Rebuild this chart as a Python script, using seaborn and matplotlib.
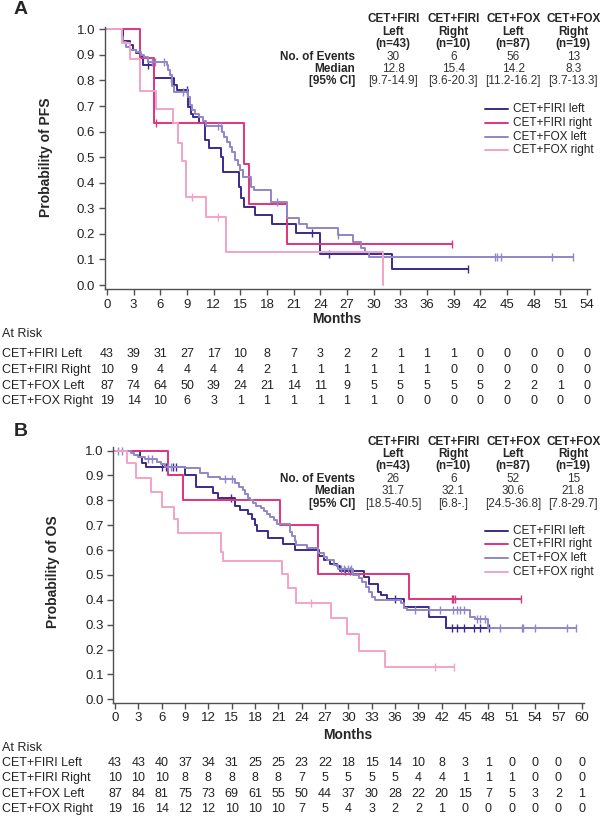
import numpy as np
import matplotlib
matplotlib.use("Agg")
import matplotlib.pyplot as plt
import matplotlib.transforms as mtransforms
from matplotlib.lines import Line2D
import seaborn as sns

# --- datos ---
grupos = ["CET+FIRI left", "CET+FIRI right", "CET+FOX left", "CET+FOX right"]
filas_riesgo = ["CET+FIRI Left", "CET+FIRI Right", "CET+FOX Left", "CET+FOX Right"]
colores = ["#3b2a8c", "#e2337f", "#8f87c7", "#f3a2c8"]

col_titulo1 = ["CET+FIRI", "CET+FIRI", "CET+FOX", "CET+FOX"]
col_titulo2 = ["Left", "Right", "Left", "Right"]
col_n = ["(n=43)", "(n=10)", "(n=87)", "(n=19)"]

# Panel A (PFS)
pfs_eventos = ["30", "6", "56", "13"]
pfs_mediana = ["12.8", "15.4", "14.2", "8.3"]
pfs_ic = ["[9.7-14.9]", "[3.6-20.3]", "[11.2-16.2]", "[3.7-13.3]"]

pfs_t_firi_l = [0, 1.8, 2.6, 2.9, 3.3, 3.7, 4.1, 5.25, 7.5, 7.9, 9.1, 9.4, 9.7, 10.3, 11.0,
                11.5, 12.8, 13.1, 14.8, 15.1, 15.4, 16.6, 18.6, 21.3, 24.0, 32.1, 40.6]
pfs_s_firi_l = [1.0, 0.955, 0.939, 0.919, 0.906, 0.89, 0.86, 0.808, 0.782, 0.763, 0.697, 0.67,
                0.658, 0.632, 0.567, 0.535, 0.502, 0.443, 0.384, 0.339, 0.306, 0.272, 0.237,
                0.203, 0.121, 0.063, 0.063]
pfs_c_firi_l = [4.6, 7.2, 9.0, 23.1, 25.0, 40.6]

pfs_t_firi_r = [0, 3.7, 5.3, 15.4, 16.0, 20.2, 38.8]
pfs_s_firi_r = [1.0, 0.889, 0.632, 0.475, 0.317, 0.159, 0.159]
pfs_c_firi_r = [5.5, 38.8]

pfs_t_fox_l = [0, 1.65, 1.8, 2.1, 2.6, 3.3, 3.8, 4.2, 4.6, 6.7, 6.9, 7.1, 7.3, 7.5, 9.1, 9.3,
               9.6, 9.9, 10.4, 10.8, 11.1, 12.9, 13.2, 13.5, 13.8, 14.1, 14.4, 14.7, 15.0, 15.3,
               16.2, 16.5, 18.5, 20.2, 21.6, 22.5, 26.0, 27.7, 28.6, 29.0, 29.5, 52.4]
pfs_s_fox_l = [1.0, 0.97, 0.95, 0.93, 0.92, 0.91, 0.90, 0.89, 0.874, 0.86, 0.84, 0.82, 0.78,
               0.756, 0.736, 0.703, 0.684, 0.67, 0.658, 0.64, 0.62, 0.60, 0.58, 0.56, 0.54,
               0.52, 0.49, 0.47, 0.45, 0.424, 0.384, 0.371, 0.326, 0.263, 0.24, 0.222, 0.196,
               0.169, 0.143, 0.13, 0.108, 0.108]
pfs_c_fox_l = [5.1, 5.4, 6.4, 8.5, 9.0, 12.5, 12.8, 19.1, 26.0, 43.6, 43.9, 44.3, 50.0, 52.4]

pfs_t_fox_r = [0, 1.65, 2.55, 3.7, 5.5, 7.4, 7.95, 8.4, 8.9, 11.1, 13.4, 31.1]
pfs_s_fox_r = [1.0, 0.948, 0.883, 0.76, 0.69, 0.632, 0.554, 0.486, 0.345, 0.265, 0.128, 0.0]
pfs_c_fox_r = [9.6, 12.5]

pfs_meses = list(range(0, 55, 3))
pfs_riesgo = [
    [43, 39, 31, 27, 17, 10, 8, 7, 3, 2, 2, 1, 1, 1, 0, 0, 0, 0, 0],
    [10, 9, 4, 4, 4, 4, 2, 1, 1, 1, 1, 1, 1, 0, 0, 0, 0, 0, 0],
    [87, 74, 64, 50, 39, 24, 21, 14, 11, 9, 5, 5, 5, 5, 5, 2, 2, 1, 0],
    [19, 14, 10, 6, 3, 1, 1, 1, 1, 1, 1, 0, 0, 0, 0, 0, 0, 0, 0],
]

# Panel B (OS)
os_eventos = ["26", "6", "52", "15"]
os_mediana = ["31.7", "32.1", "30.6", "21.8"]
os_ic = ["[18.5-40.5]", "[6.8-.]", "[24.5-36.8]", "[7.8-29.7]"]

os_t_firi_l = [0, 3.2, 3.5, 4.0, 9.0, 10.4, 12.6, 13.3, 15.4, 16.1, 17.1, 17.6, 18.0, 18.2,
               19.7, 21.6, 23.1, 26.2, 26.8, 27.6, 28.5, 28.9, 32.0, 32.7, 33.8, 34.2, 35.0,
               37.1, 40.3, 42.6, 48.1]
os_s_firi_l = [1.0, 0.976, 0.952, 0.933, 0.902, 0.853, 0.828, 0.808, 0.777, 0.761, 0.744,
               0.724, 0.701, 0.677, 0.65, 0.623, 0.6, 0.578, 0.56, 0.543, 0.534, 0.516, 0.493,
               0.462, 0.433, 0.42, 0.402, 0.373, 0.332, 0.286, 0.286]
os_c_firi_l = [6.0, 6.6, 7.5, 7.9, 14.9, 29.6, 30.2, 36.0, 43.3, 43.9, 44.8, 46.1, 46.9, 48.1]

os_t_firi_r = [0, 6.86, 8.7, 21.2, 26.1, 37.8, 52.2]
os_s_firi_r = [1.0, 0.9, 0.8, 0.7, 0.503, 0.403, 0.403]
os_c_firi_r = [43.3, 43.5, 43.7, 52.2]

os_t_fox_l = [0, 2.1, 2.5, 3.0, 3.9, 5.4, 5.9, 6.4, 9.0, 10.9, 12.0, 13.5, 15.4, 16.0, 16.4,
              16.7, 17.1, 17.4, 17.7, 18.1, 18.7, 19.1, 19.5, 19.9, 20.4, 20.8, 22.5, 22.8,
              23.1, 23.3, 24.7, 26.1, 26.8, 27.3, 28.1, 28.7, 30.6, 31.3, 31.7, 32.2, 32.6,
              33.0, 33.4, 36.7, 37.1, 37.5, 45.6, 46.3, 47.9, 59.2]
os_s_fox_l = [1.0, 0.992, 0.983, 0.976, 0.965, 0.956, 0.946, 0.936, 0.929, 0.909, 0.895,
              0.885, 0.871, 0.855, 0.842, 0.826, 0.811, 0.802, 0.788, 0.779, 0.768, 0.757,
              0.745, 0.735, 0.721, 0.704, 0.674, 0.657, 0.638, 0.62, 0.607, 0.59, 0.574, 0.56,
              0.54, 0.523, 0.5, 0.487, 0.473, 0.453, 0.433, 0.413, 0.4, 0.386, 0.369, 0.359,
              0.332, 0.323, 0.286, 0.286]
os_c_fox_l = [0.4, 0.9, 4.2, 4.7, 6.8, 7.2, 14.1, 15.0, 29.0, 29.4, 30.0, 30.3, 38.6, 40.3,
              41.8, 43.5, 43.9, 44.3, 44.8, 46.5, 46.9, 47.6, 49.5, 52.3, 52.5, 54.0, 58.1, 59.2]

os_t_fox_r = [0, 1.5, 2.7, 4.6, 6.0, 7.6, 8.1, 13.6, 13.9, 21.4, 22.2, 23.3, 27.7, 29.8,
              31.3, 34.7, 43.6]
os_s_fox_r = [1.0, 0.949, 0.889, 0.835, 0.775, 0.725, 0.668, 0.594, 0.556, 0.504, 0.446,
              0.389, 0.326, 0.263, 0.196, 0.131, 0.131]
os_c_fox_r = [25.2, 41.1, 43.6]

os_meses = list(range(0, 61, 3))
os_riesgo = [
    [43, 43, 40, 37, 34, 31, 25, 25, 23, 22, 18, 15, 14, 10, 8, 3, 1, 0, 0, 0, 0],
    [10, 10, 10, 8, 8, 8, 8, 8, 7, 5, 5, 5, 5, 4, 4, 1, 1, 1, 0, 0, 0],
    [87, 84, 81, 75, 73, 69, 61, 55, 50, 44, 37, 30, 28, 22, 20, 15, 7, 5, 3, 2, 1],
    [19, 16, 14, 12, 12, 10, 10, 10, 7, 5, 4, 3, 2, 2, 1, 0, 0, 0, 0, 0, 0],
]

# --- estilo ---
sns.set_style("ticks")
plt.rcParams["font.family"] = ["Liberation Sans", "DejaVu Sans"]

W, H = 600, 819
fig = plt.figure(figsize=(W / 100, H / 100), dpi=100)


def fx(x):
    return x / W


def fy(y):
    return 1 - y / H


def texto(x, y, s, **kw):
    fig.text(fx(x), fy(y), s, **kw)


def panel(rect, xlim, ylim, curvas, xmax):
    ax = fig.add_axes(rect)
    for (t, s, c), col in zip(curvas, colores):
        sns.lineplot(x=t, y=s, drawstyle="steps-post", color=col, lw=1.4,
                     estimator=None, sort=False, ax=ax)
        t_arr = np.array(t)
        idx = np.searchsorted(t_arr, c, side="right") - 1
        ax.plot(c, np.array(s)[idx], linestyle="none", marker="|", ms=5.5,
                mew=1.0, color=col)
    ax.set_xlim(*xlim)
    ax.set_ylim(*ylim)
    ax.set_xticks(np.arange(0, xmax + 1, 3))
    ax.set_yticks(np.arange(0, 1.01, 0.1))
    ax.set_yticklabels([f"{v:.1f}" for v in np.arange(0, 1.01, 0.1)])
    ax.set_xlabel("")
    ax.set_ylabel("")
    sns.despine(ax=ax)
    for sp in ["left", "bottom"]:
        ax.spines[sp].set_color("#505050")
        ax.spines[sp].set_linewidth(1.0)
    ax.tick_params(direction="out", length=4, width=1.0, color="#505050",
                   labelsize=9.5, labelcolor="#222222", pad=3)
    return ax


def cabecera(y0, eventos, mediana, ic):
    xs = [393.3, 453.3, 513.3, 573.3]
    dy = 12.4
    fs = 8.5
    for i, x in enumerate(xs):
        texto(x, y0, col_titulo1[i], ha="center", va="center", fontsize=fs, fontweight="bold")
        texto(x, y0 + dy, col_titulo2[i], ha="center", va="center", fontsize=fs, fontweight="bold")
        texto(x, y0 + 2 * dy, col_n[i], ha="center", va="center", fontsize=fs, fontweight="bold")
        texto(x, y0 + 3 * dy, eventos[i], ha="center", va="center", fontsize=fs, color="#333333")
        texto(x, y0 + 4 * dy, mediana[i], ha="center", va="center", fontsize=fs, color="#333333")
        texto(x, y0 + 5 * dy, ic[i], ha="center", va="center", fontsize=fs, color="#333333")
    for k, lab in enumerate(["No. of Events", "Median", "[95% CI]"]):
        texto(355, y0 + (3 + k) * dy, lab, ha="right", va="center", fontsize=fs,
              fontweight="bold")


def leyenda(y0):
    for k, (g, col) in enumerate(zip(grupos, colores)):
        y = y0 + k * 13.6
        fig.add_artist(Line2D([fx(485), fx(508)], [fy(y), fy(y)], color=col, lw=1.4,
                              transform=fig.transFigure))
        texto(513.3, y, g, ha="left", va="center", fontsize=8.5, color="#222222")


def en_riesgo(ax, meses, tabla, y_titulo, ys):
    trans = mtransforms.blended_transform_factory(ax.transData, fig.transFigure)
    texto(1.5, y_titulo, "At Risk", ha="left", va="center", fontsize=9, color="#222222")
    for fila, nombre, y in zip(tabla, filas_riesgo, ys):
        texto(1.5, y, nombre, ha="left", va="center", fontsize=9, color="#222222")
        for m, v in zip(meses, fila):
            ax.text(m, fy(y), str(v), transform=trans, ha="center", va="center",
                    fontsize=9, color="#222222")


# --- Panel A ---
axA = panel([fx(105), fy(289.3), fx(590) - fx(105), fy(26.7) - fy(289.3)],
            (-0.22, 54.33), (-0.0168, 1.0102),
            [(pfs_t_firi_l, pfs_s_firi_l, pfs_c_firi_l),
             (pfs_t_firi_r, pfs_s_firi_r, pfs_c_firi_r),
             (pfs_t_fox_l, pfs_s_fox_l, pfs_c_fox_l),
             (pfs_t_fox_r, pfs_s_fox_r, pfs_c_fox_r)], 54)
texto(46, 157, "Probability of PFS", rotation=90, ha="center", va="center",
      fontsize=10, fontweight="bold")
texto(337, 319, "Months", ha="center", va="center", fontsize=10, fontweight="bold")
texto(21, 9, "A", ha="center", va="center", fontsize=14, fontweight="bold")
cabecera(19.3, pfs_eventos, pfs_mediana, pfs_ic)
leyenda(109.3)
en_riesgo(axA, pfs_meses, pfs_riesgo, 334.3, [354, 370, 385.7, 401])

# --- Panel B ---
axB = panel([fx(113.3), fy(702.7), fx(584) - fx(113.3), fy(447) - fy(702.7)],
            (-0.22, 60.28), (-0.0137, 1.0145),
            [(os_t_firi_l, os_s_firi_l, os_c_firi_l),
             (os_t_firi_r, os_s_firi_r, os_c_firi_r),
             (os_t_fox_l, os_s_fox_l, os_c_fox_l),
             (os_t_fox_r, os_s_fox_r, os_c_fox_r)], 60)
texto(53, 572, "Probability of OS", rotation=90, ha="center", va="center",
      fontsize=10, fontweight="bold")
texto(348, 735, "Months", ha="center", va="center", fontsize=10, fontweight="bold")
texto(21, 431, "B", ha="center", va="center", fontsize=14, fontweight="bold")
cabecera(441.7, os_eventos, os_mediana, os_ic)
leyenda(530.7)
en_riesgo(axB, os_meses, os_riesgo, 748.3, [763.3, 778.3, 794, 809])

fig.savefig("out.png", dpi=100)
